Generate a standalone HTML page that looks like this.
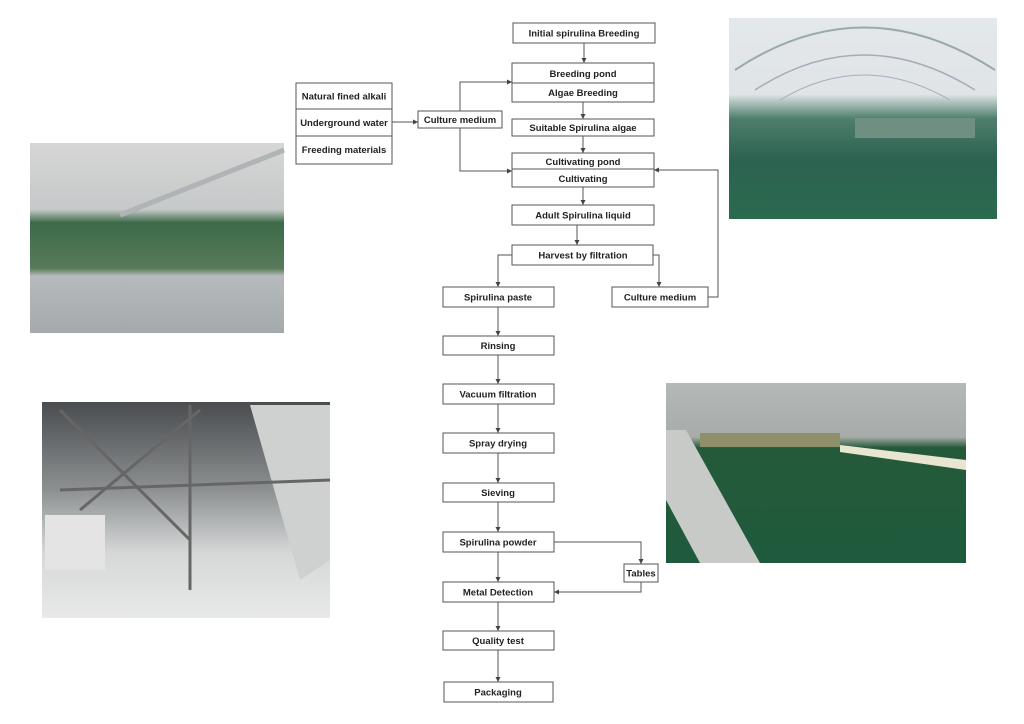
<!DOCTYPE html>
<html><head><meta charset="utf-8"><style>
html,body{margin:0;padding:0;background:#fff;}
svg{display:block;}
text{font-family:"Liberation Sans",sans-serif;font-weight:bold;font-size:9.5px;fill:#222;text-anchor:middle;}
.b{fill:#fff;stroke:#555;stroke-width:1;}
.l{stroke:#555;stroke-width:1;fill:none;}
</style></head><body>
<svg width="1024" height="724" viewBox="0 0 1024 724" xmlns="http://www.w3.org/2000/svg">
<defs>
<marker id="a" markerWidth="6" markerHeight="6" refX="5" refY="3" orient="auto" markerUnits="userSpaceOnUse"><path d="M0,0.5 L5,3 L0,5.5z" fill="#444"/></marker>
<linearGradient id="g1" x1="0" y1="0" x2="0" y2="1"><stop offset="0" stop-color="#e4e8ec"/><stop offset="0.38" stop-color="#dfe4e6"/><stop offset="0.5" stop-color="#4e7f6c"/><stop offset="0.7" stop-color="#2c6250"/><stop offset="1" stop-color="#2a6a4f"/></linearGradient>
<linearGradient id="g2" x1="0" y1="0" x2="0" y2="1"><stop offset="0" stop-color="#d6d6d6"/><stop offset="0.35" stop-color="#c6c9c9"/><stop offset="0.42" stop-color="#3c6a48"/><stop offset="0.66" stop-color="#587a5a"/><stop offset="0.7" stop-color="#b6babd"/><stop offset="1" stop-color="#a4a9ab"/></linearGradient>
<linearGradient id="g3" x1="0" y1="0" x2="0" y2="1"><stop offset="0" stop-color="#4a4d50"/><stop offset="0.4" stop-color="#8b8f90"/><stop offset="0.7" stop-color="#d6d8d8"/><stop offset="1" stop-color="#e8e9e9"/></linearGradient>
<linearGradient id="g4" x1="0" y1="0" x2="0" y2="1"><stop offset="0" stop-color="#b4b8b7"/><stop offset="0.3" stop-color="#a8aca9"/><stop offset="0.36" stop-color="#245a3a"/><stop offset="1" stop-color="#1f5a3c"/></linearGradient>
</defs>

<!-- photos -->
<rect x="729" y="18" width="268" height="201" fill="url(#g1)"/>
<path d="M735 70 Q863 -15 995 70" style="stroke:#9aa;fill:none;stroke-width:2"/>
<path d="M755 90 Q863 20 975 90" style="stroke:#aab;fill:none;stroke-width:1.5"/>
<path d="M780 100 Q863 50 950 100" style="stroke:#aab;fill:none;stroke-width:1"/>
<rect x="855" y="118" width="120" height="20" fill="#6f9080"/>
<rect x="30" y="143" width="254" height="190" fill="url(#g2)"/>
<line x1="120" y1="215" x2="284" y2="150" stroke="#b0b4b6" stroke-width="5"/>
<rect x="42" y="402" width="288" height="216" fill="url(#g3)"/>
<rect x="45" y="515" width="60" height="55" fill="#e4e4e4"/>
<path d="M250 405 L330 405 L330 560 L300 580 Z" fill="#cfd1d1"/>
<path d="M60 410 L190 540 M200 410 L80 510 M190 405 L190 590 M60 490 L330 480" stroke="#666" stroke-width="3" fill="none"/>
<rect x="666" y="383" width="300" height="180" fill="url(#g4)"/>
<rect x="700" y="433" width="140" height="14" fill="#8f8f6a"/>
<path d="M666 430 L686 430 L760 563 L700 563 L666 500Z" fill="#c8cac8"/>
<path d="M840 445 L966 460 L966 470 L840 452Z" fill="#e8e6d0"/>

<!-- top flow -->
<rect class="b" x="513" y="23" width="142" height="20"/><text x="584" y="36.5">Initial spirulina Breeding</text>
<line class="l" x1="584" y1="43" x2="584" y2="63" marker-end="url(#a)"/>
<rect class="b" x="512" y="63" width="142" height="39"/><line class="l" x1="512" y1="83" x2="654" y2="83"/>
<text x="583" y="77">Breeding pond</text><text x="583" y="96">Algae Breeding</text>
<line class="l" x1="583" y1="102" x2="583" y2="119" marker-end="url(#a)"/>
<rect class="b" x="512" y="119" width="142" height="17"/><text x="583" y="131">Suitable Spirulina algae</text>
<line class="l" x1="583" y1="136" x2="583" y2="153" marker-end="url(#a)"/>
<rect class="b" x="512" y="153" width="142" height="34"/><line class="l" x1="512" y1="169" x2="654" y2="169"/>
<text x="583" y="165">Cultivating pond</text><text x="583" y="182">Cultivating</text>
<line class="l" x1="583" y1="187" x2="583" y2="205" marker-end="url(#a)"/>
<rect class="b" x="512" y="205" width="142" height="20"/><text x="583" y="218.5">Adult Spirulina liquid</text>
<line class="l" x1="577" y1="225" x2="577" y2="245" marker-end="url(#a)"/>
<rect class="b" x="512" y="245" width="141" height="20"/><text x="583" y="258.5">Harvest by filtration</text>
<polyline class="l" points="512,255 498,255 498,287" marker-end="url(#a)"/>
<polyline class="l" points="653,255 659,255 659,287" marker-end="url(#a)"/>
<rect class="b" x="612" y="287" width="96" height="20"/><text x="660" y="300.5">Culture medium</text>
<polyline class="l" points="708,297 718,297 718,170 654,170" marker-end="url(#a)"/>

<!-- left inputs -->
<rect class="b" x="296" y="83" width="96" height="81"/>
<line class="l" x1="296" y1="109" x2="392" y2="109"/><line class="l" x1="296" y1="136" x2="392" y2="136"/>
<text x="344" y="99.5">Natural fined alkali</text><text x="344" y="126">Underground water</text><text x="344" y="153">Freeding materials</text>
<line class="l" x1="392" y1="122" x2="418" y2="122" marker-end="url(#a)"/>
<rect class="b" x="418" y="111" width="84" height="17"/><text x="460" y="123">Culture medium</text>
<polyline class="l" points="460,111 460,82 512,82" marker-end="url(#a)"/>
<polyline class="l" points="460,128 460,171 512,171" marker-end="url(#a)"/>

<!-- lower flow -->
<rect class="b" x="443" y="287" width="111" height="20"/><text x="498" y="300.5">Spirulina paste</text>
<line class="l" x1="498" y1="307" x2="498" y2="336" marker-end="url(#a)"/>
<rect class="b" x="443" y="336" width="111" height="19"/><text x="498" y="349">Rinsing</text>
<line class="l" x1="498" y1="355" x2="498" y2="384" marker-end="url(#a)"/>
<rect class="b" x="443" y="384" width="111" height="20"/><text x="498" y="397.5">Vacuum filtration</text>
<line class="l" x1="498" y1="404" x2="498" y2="433" marker-end="url(#a)"/>
<rect class="b" x="443" y="433" width="111" height="20"/><text x="498" y="446.5">Spray drying</text>
<line class="l" x1="498" y1="453" x2="498" y2="483" marker-end="url(#a)"/>
<rect class="b" x="443" y="483" width="111" height="19"/><text x="498" y="496">Sieving</text>
<line class="l" x1="498" y1="502" x2="498" y2="532" marker-end="url(#a)"/>
<rect class="b" x="443" y="532" width="111" height="20"/><text x="498" y="545.5">Spirulina powder</text>
<line class="l" x1="498" y1="552" x2="498" y2="582" marker-end="url(#a)"/>
<polyline class="l" points="554,542 641,542 641,564" marker-end="url(#a)"/>
<rect class="b" x="624" y="564" width="34" height="18"/><text x="641" y="576.5">Tables</text>
<polyline class="l" points="641,582 641,592 554,592" marker-end="url(#a)"/>
<rect class="b" x="443" y="582" width="111" height="20"/><text x="498" y="595.5">Metal Detection</text>
<line class="l" x1="498" y1="602" x2="498" y2="631" marker-end="url(#a)"/>
<rect class="b" x="443" y="631" width="111" height="19"/><text x="498" y="644">Quality test</text>
<line class="l" x1="498" y1="650" x2="498" y2="682" marker-end="url(#a)"/>
<rect class="b" x="444" y="682" width="109" height="20"/><text x="498" y="695.5">Packaging</text>
</svg>
</body></html>
